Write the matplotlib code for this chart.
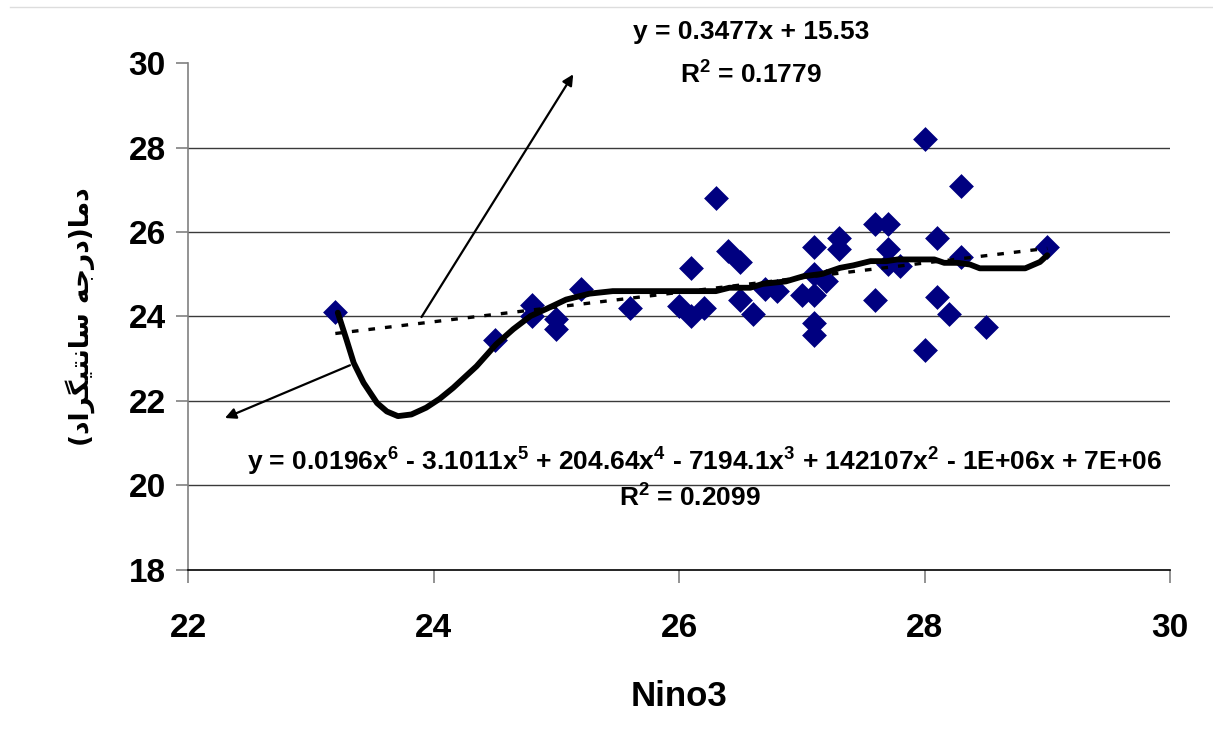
import numpy as np
import matplotlib
matplotlib.use("Agg")
from matplotlib import pyplot as plt
from matplotlib import font_manager
from matplotlib.lines import Line2D

# pick a condensed bold face if it is there
names = {f.name for f in font_manager.fontManager.ttflist}
narrow = 'Liberation Sans Narrow' if 'Liberation Sans Narrow' in names else 'Liberation Sans'
plt.rcParams['font.family'] = [narrow, 'DejaVu Sans']
plt.rcParams['font.weight'] = 'bold'
plt.rcParams['axes.labelweight'] = 'bold'
plt.rcParams['mathtext.fontset'] = 'custom'
plt.rcParams['mathtext.rm'] = narrow + ':bold'
plt.rcParams['mathtext.it'] = narrow + ':bold'
plt.rcParams['mathtext.bf'] = narrow + ':bold'

# Nino3 index vs. temperature
nino3 = [23.2, 24.5, 24.8, 24.8, 25.0, 25.0, 25.2, 25.6, 26.0, 26.1, 26.1, 26.2,
         26.3, 26.4, 26.5, 26.5, 26.6, 26.7, 26.8, 27.0, 27.1, 27.1, 27.1, 27.1,
         27.1, 27.2, 27.3, 27.3, 27.6, 27.7, 27.7, 27.7, 27.8, 27.6, 28.0, 28.3,
         28.1, 28.3, 29.0, 28.1, 28.2, 28.5, 28.0]
temp = [24.1, 23.45, 24.28, 24.0, 23.95, 23.7, 24.65, 24.2, 24.25, 24.0, 25.15, 24.2,
        26.8, 25.55, 25.3, 24.4, 24.05, 24.65, 24.6, 24.5, 24.5, 25.65, 25.0, 23.85,
        23.55, 24.85, 25.85, 25.6, 26.2, 26.2, 25.6, 25.25, 25.2, 24.4, 28.2, 27.1,
        25.85, 25.4, 25.65, 24.45, 24.05, 23.75, 23.2]

# linear trendline
lin_slope = 0.3477
lin_icept = 15.53

# 6th order trendline as drawn
poly_x = [23.22, 23.29, 23.35, 23.43, 23.54, 23.62, 23.71, 23.82, 23.94, 24.05,
          24.16, 24.35, 24.51, 24.65, 24.79, 24.92, 25.08, 25.27, 25.46, 25.76,
          26.3, 26.41, 26.58, 26.68, 26.87, 27.01, 27.17, 27.31, 27.42, 27.56,
          27.69, 27.78, 27.91, 28.08, 28.16, 28.27, 28.37, 28.45, 28.6, 28.82,
          28.94, 29.0]
poly_y = [24.09, 23.46, 22.9, 22.43, 21.95, 21.75, 21.64, 21.68, 21.84, 22.05,
          22.31, 22.82, 23.34, 23.7, 24.01, 24.18, 24.4, 24.54, 24.6, 24.6,
          24.6, 24.68, 24.68, 24.77, 24.83, 24.95, 25.01, 25.15, 25.21, 25.31,
          25.31, 25.35, 25.35, 25.35, 25.27, 25.27, 25.23, 25.14, 25.14, 25.14,
          25.29, 25.45]

lin_text = "y = 0.3477x + 15.53"
lin_r2 = "R$^2$ = 0.1779"
poly_text = ("y = 0.0196x$^6$ - 3.1011x$^5$ + 204.64x$^4$ - 7194.1x$^3$ "
             "+ 142107x$^2$ - 1E+06x + 7E+06")
poly_r2 = "R$^2$ = 0.2099"

# temperature (degrees Celsius), shaped and in visual order
ylabel = "(\uFEA9\uFE8D\uFEAE\uFB95\uFBFF\uFE98\uFEE7\uFE8E\uFEB3 \uFEEA\uFE9F\uFEAD\uFEA9)\uFE8E\uFEE3\uFEA9"

fig = plt.figure(figsize=(12.13, 7.42), dpi=100)
ax = fig.add_axes([0.155, 0.232, 0.8096, 0.683])

ax.set_xlim(22, 30)
ax.set_ylim(18, 30)
ax.set_xticks([22, 24, 26, 28, 30])
ax.set_yticks([18, 20, 22, 24, 26, 28, 30])
for y in [20, 22, 24, 26, 28]:
    ax.axhline(y, color='#3a3a3a', lw=1.0, zorder=0)

ax.scatter(nino3, temp, marker='D', s=160, color='#000080', zorder=3, linewidths=0)

xs = np.array([min(nino3), max(nino3)])
ax.plot(xs, lin_slope * xs + lin_icept, color='black', lw=2.4, dashes=(2, 3), zorder=4)
ax.plot(poly_x, poly_y, color='black', lw=4.2, solid_capstyle='round', zorder=4)

arrow = dict(arrowstyle='-|>', color='black', lw=1.6, mutation_scale=16)
ax.annotate('', xy=(25.15, 29.79), xytext=(23.89, 23.93), arrowprops=arrow)
ax.annotate('', xy=(22.28, 21.57), xytext=(23.34, 22.87), arrowprops=arrow)

ax.text(26.59, 30.73, lin_text, ha='center', va='center', fontsize=19, clip_on=False)
ax.text(26.59, 29.72, lin_r2, ha='center', va='center', fontsize=19)
ax.text(26.21, 20.56, poly_text, ha='center', va='center', fontsize=19)
ax.text(26.09, 19.70, poly_r2, ha='center', va='center', fontsize=19)

for s in ['top', 'right']:
    ax.spines[s].set_visible(False)
ax.spines['left'].set_color('#808080')
ax.spines['left'].set_linewidth(1.2)
ax.spines['bottom'].set_color('black')
ax.spines['bottom'].set_linewidth(1.2)
ax.tick_params(axis='both', direction='out', length=9, width=1.2, color='#808080',
               labelsize=24)
ax.tick_params(axis='y', pad=7)
ax.tick_params(axis='x', pad=22)

ax.set_xlabel('Nino3', fontsize=25, fontweight='bold', labelpad=26)
ax.set_ylabel(ylabel, fontsize=19, family=['DejaVu Sans'], fontweight='bold', labelpad=24)

fig.add_artist(Line2D([0.008, 1.0], [0.99, 0.99], color='#dddddd', lw=1))

fig.savefig('out.png', dpi=100)
